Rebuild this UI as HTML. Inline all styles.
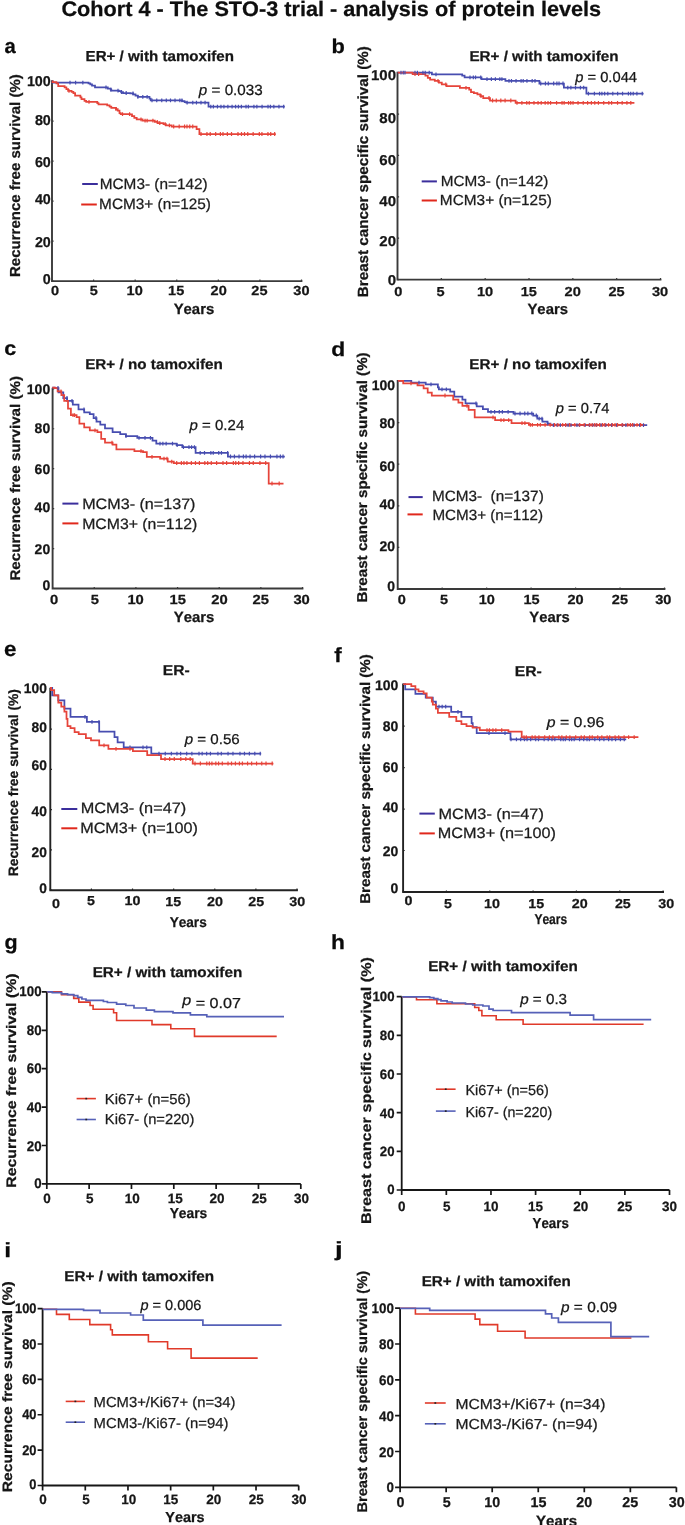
<!DOCTYPE html>
<html><head><meta charset="utf-8"><style>
html,body{margin:0;padding:0;background:#fff;width:685px;height:1525px;overflow:hidden}
svg{display:block;font-family:"Liberation Sans", sans-serif;font-kerning:none;text-rendering:geometricPrecision;will-change:transform}
</style></head><body>
<svg width="685" height="1525" viewBox="0 0 685 1525">
<rect width="685" height="1525" fill="#fff"/>
<text x="61.41" y="16.00" font-size="21" fill="#0e0e0e" stroke="#0e0e0e" stroke-width="0.25" textLength="539.78" lengthAdjust="spacingAndGlyphs" xml:space="preserve"><tspan font-weight="bold" font-style="normal">Cohort 4 - The STO-3 trial - analysis of protein levels</tspan></text>
<text x="4.41" y="52.50" font-size="20.5" fill="#0a0a0a" stroke="#0a0a0a" stroke-width="0.25" textLength="11.26" lengthAdjust="spacingAndGlyphs" xml:space="preserve"><tspan font-weight="bold" font-style="normal">a</tspan></text>
<text x="85.59" y="60.80" font-size="14.5" fill="#161616" stroke="#161616" stroke-width="0.25" textLength="148.35" lengthAdjust="spacingAndGlyphs" xml:space="preserve"><tspan font-weight="bold" font-style="normal">ER+ / with tamoxifen</tspan></text>
<text transform="translate(20.30,276.00) rotate(-90)" x="-1.00" y="0" font-size="14.5" fill="#161616" stroke="#161616" stroke-width="0.25" textLength="202.75" lengthAdjust="spacingAndGlyphs"><tspan font-weight="bold" font-style="normal">Recurrence free survival (%)</tspan></text>
<path d="M52.00,80.20 V281.10 H302.40" fill="none" stroke="#3a3a3a" stroke-width="1.9" stroke-linejoin="miter"/>
<path d="M52.00,281.10 h1.6 M52.00,241.12 h1.6 M52.00,201.14 h1.6 M52.00,161.16 h1.6 M52.00,121.18 h1.6 M52.00,81.20 h1.6 M52.00,281.10 v-1.6 M93.58,281.10 v-1.6 M135.17,281.10 v-1.6 M176.75,281.10 v-1.6 M218.33,281.10 v-1.6 M259.92,281.10 v-1.6 M301.50,281.10 v-1.6" stroke="#3a3a3a" stroke-width="1.2"/>
<text x="42.83" y="283.80" font-size="14.3" fill="#161616" stroke="#161616" stroke-width="0.25" textLength="7.95" lengthAdjust="spacingAndGlyphs" xml:space="preserve"><tspan font-weight="bold" font-style="normal">0</tspan></text>
<text x="34.88" y="247.40" font-size="14.3" fill="#161616" stroke="#161616" stroke-width="0.25" textLength="15.91" lengthAdjust="spacingAndGlyphs" xml:space="preserve"><tspan font-weight="bold" font-style="normal">20</tspan></text>
<text x="34.88" y="204.40" font-size="14.3" fill="#161616" stroke="#161616" stroke-width="0.25" textLength="15.91" lengthAdjust="spacingAndGlyphs" xml:space="preserve"><tspan font-weight="bold" font-style="normal">40</tspan></text>
<text x="34.88" y="166.70" font-size="14.3" fill="#161616" stroke="#161616" stroke-width="0.25" textLength="15.91" lengthAdjust="spacingAndGlyphs" xml:space="preserve"><tspan font-weight="bold" font-style="normal">60</tspan></text>
<text x="34.88" y="124.80" font-size="14.3" fill="#161616" stroke="#161616" stroke-width="0.25" textLength="15.91" lengthAdjust="spacingAndGlyphs" xml:space="preserve"><tspan font-weight="bold" font-style="normal">80</tspan></text>
<text x="26.93" y="86.10" font-size="14.3" fill="#161616" stroke="#161616" stroke-width="0.25" textLength="23.86" lengthAdjust="spacingAndGlyphs" xml:space="preserve"><tspan font-weight="bold" font-style="normal">100</tspan></text>
<text x="50.97" y="295.10" font-size="13.2" fill="#161616" stroke="#161616" stroke-width="0.25" textLength="8.08" lengthAdjust="spacingAndGlyphs" xml:space="preserve"><tspan font-weight="bold" font-style="normal">0</tspan></text>
<text x="89.74" y="295.10" font-size="13.2" fill="#161616" stroke="#161616" stroke-width="0.25" textLength="8.08" lengthAdjust="spacingAndGlyphs" xml:space="preserve"><tspan font-weight="bold" font-style="normal">5</tspan></text>
<text x="126.57" y="295.10" font-size="13.2" fill="#161616" stroke="#161616" stroke-width="0.25" textLength="16.15" lengthAdjust="spacingAndGlyphs" xml:space="preserve"><tspan font-weight="bold" font-style="normal">10</tspan></text>
<text x="168.07" y="295.10" font-size="13.2" fill="#161616" stroke="#161616" stroke-width="0.25" textLength="16.15" lengthAdjust="spacingAndGlyphs" xml:space="preserve"><tspan font-weight="bold" font-style="normal">15</tspan></text>
<text x="210.57" y="295.10" font-size="13.2" fill="#161616" stroke="#161616" stroke-width="0.25" textLength="16.15" lengthAdjust="spacingAndGlyphs" xml:space="preserve"><tspan font-weight="bold" font-style="normal">20</tspan></text>
<text x="251.38" y="295.10" font-size="13.2" fill="#161616" stroke="#161616" stroke-width="0.25" textLength="16.15" lengthAdjust="spacingAndGlyphs" xml:space="preserve"><tspan font-weight="bold" font-style="normal">25</tspan></text>
<text x="293.36" y="295.10" font-size="13.2" fill="#161616" stroke="#161616" stroke-width="0.25" textLength="16.15" lengthAdjust="spacingAndGlyphs" xml:space="preserve"><tspan font-weight="bold" font-style="normal">30</tspan></text>
<text x="173.65" y="314.30" font-size="15" fill="#161616" stroke="#161616" stroke-width="0.25" textLength="40.57" lengthAdjust="spacingAndGlyphs" xml:space="preserve"><tspan font-weight="bold" font-style="normal">Years</tspan></text>
<text x="198.88" y="94.80" font-size="14.8" fill="#161616" stroke="#161616" stroke-width="0.25" textLength="63.79" lengthAdjust="spacingAndGlyphs" xml:space="preserve"><tspan font-weight="normal" font-style="italic">p</tspan><tspan font-weight="normal" font-style="normal"> = 0.033</tspan></text>
<path d="M82.20,184.00 H97.80" stroke="#3b2e9c" stroke-width="2"/>
<text x="99.74" y="188.50" font-size="15" fill="#1c1c1c" stroke="#1c1c1c" stroke-width="0.25" textLength="107.91" lengthAdjust="spacingAndGlyphs" xml:space="preserve"><tspan font-weight="normal" font-style="normal">MCM3- (n=142)</tspan></text>
<path d="M81.20,204.50 H96.80" stroke="#e0281c" stroke-width="2"/>
<text x="99.14" y="209.00" font-size="15" fill="#1c1c1c" stroke="#1c1c1c" stroke-width="0.25" textLength="111.81" lengthAdjust="spacingAndGlyphs" xml:space="preserve"><tspan font-weight="normal" font-style="normal">MCM3+ (n=125)</tspan></text>
<path d="M52.00,81.30 H52.50 V82.70 H88.50 V83.30 H90.30 V84.40 H92.00 V85.60 H95.00 V87.30 H107.80 V88.50 H110.70 V89.70 H111.30 V90.60 H118.90 V91.10 H121.20 V92.00 H123.00 V93.00 H130.30 V93.30 H133.20 V94.40 H135.50 V95.60 H137.80 V96.80 H149.50 V98.50 H150.70 V100.30 H182.20 V101.10 H184.60 V102.00 H186.30 V102.60 H208.50 V106.60 H284.80" fill="none" stroke="#474db0" stroke-width="1.75"/>
<path d="M52.00,81.30 H52.50 V82.10 H56.40 V83.30 H58.20 V86.20 H64.60 V87.30 H66.40 V89.10 H68.10 V90.80 H71.60 V91.80 H73.40 V93.20 H75.10 V95.50 H80.40 V97.30 H81.50 V99.00 H84.50 V100.80 H86.20 V101.90 H97.30 V103.10 H98.50 V104.30 H107.20 V105.40 H109.60 V106.60 H111.30 V107.80 H116.00 V109.00 H117.70 V110.70 H119.50 V113.00 H120.70 V114.20 H129.70 V114.30 H132.00 V116.00 H134.30 V117.80 H136.70 V119.30 H142.50 V120.70 H154.80 V121.90 H157.70 V123.00 H163.50 V124.20 H165.90 V125.40 H171.70 V126.50 H196.60 V129.00 H199.40 V134.00 H275.80" fill="none" stroke="#e6443a" stroke-width="1.75"/>
<path d="M70.00,80.80 v3.80 M75.59,80.80 v3.80 M82.84,80.80 v3.80 M106.00,85.40 v3.80 M110.80,87.80 v3.80 M118.00,88.70 v3.80 M121.47,90.10 v3.80 M126.18,91.10 v3.80 M133.00,91.40 v3.80 M137.88,94.90 v3.80 M142.80,94.90 v3.80 M147.12,94.90 v3.80 M152.00,98.40 v3.80 M156.74,98.40 v3.80 M161.75,98.40 v3.80 M166.30,98.40 v3.80 M170.49,98.40 v3.80 M175.01,98.40 v3.80 M179.84,98.40 v3.80 M181.94,98.40 v3.80 M187.13,100.70 v3.80 M192.77,100.70 v3.80 M196.46,100.70 v3.80 M200.99,100.70 v3.80 M205.07,100.70 v3.80 M210.77,104.70 v3.80 M213.38,104.70 v3.80 M217.45,104.70 v3.80 M220.95,104.70 v3.80 M223.93,104.70 v3.80 M227.87,104.70 v3.80 M232.08,104.70 v3.80 M235.55,104.70 v3.80 M238.43,104.70 v3.80 M241.39,104.70 v3.80 M246.02,104.70 v3.80 M248.35,104.70 v3.80 M253.91,104.70 v3.80 M256.87,104.70 v3.80 M262.07,104.70 v3.80 M268.01,104.70 v3.80 M270.41,104.70 v3.80 M273.83,104.70 v3.80 M278.96,104.70 v3.80 M283.67,104.70 v3.80" stroke="#474db0" stroke-width="1.2"/>
<path d="M69.00,88.90 v3.80 M89.00,100.00 v3.80 M116.00,107.10 v3.80 M122.52,112.30 v3.80 M129.58,112.30 v3.80 M141.00,117.40 v3.80 M145.07,118.80 v3.80 M147.14,118.80 v3.80 M152.92,118.80 v3.80 M157.25,120.00 v3.80 M159.78,121.10 v3.80 M165.25,122.30 v3.80 M169.39,123.50 v3.80 M173.68,124.60 v3.80 M179.19,124.60 v3.80 M184.55,124.60 v3.80 M186.97,124.60 v3.80 M189.73,124.60 v3.80 M192.75,124.60 v3.80 M201.00,132.10 v3.80 M206.95,132.10 v3.80 M210.21,132.10 v3.80 M215.68,132.10 v3.80 M220.38,132.10 v3.80 M222.98,132.10 v3.80 M227.35,132.10 v3.80 M231.52,132.10 v3.80 M237.98,132.10 v3.80 M241.49,132.10 v3.80 M244.51,132.10 v3.80 M247.75,132.10 v3.80 M253.15,132.10 v3.80 M259.30,132.10 v3.80 M261.93,132.10 v3.80 M267.95,132.10 v3.80 M270.72,132.10 v3.80 M274.65,132.10 v3.80" stroke="#e6443a" stroke-width="1.2"/>
<text x="331.46" y="52.50" font-size="20" fill="#0a0a0a" stroke="#0a0a0a" stroke-width="0.25" textLength="13.33" lengthAdjust="spacingAndGlyphs" xml:space="preserve"><tspan font-weight="bold" font-style="normal">b</tspan></text>
<text x="469.48" y="60.80" font-size="14.3" fill="#161616" stroke="#161616" stroke-width="0.25" textLength="149.06" lengthAdjust="spacingAndGlyphs" xml:space="preserve"><tspan font-weight="bold" font-style="normal">ER+ / with tamoxifen</tspan></text>
<text transform="translate(367.70,296.20) rotate(-90)" x="-1.02" y="0" font-size="14.7" fill="#161616" stroke="#161616" stroke-width="0.25" textLength="251.07" lengthAdjust="spacingAndGlyphs"><tspan font-weight="bold" font-style="normal">Breast cancer specific survival (%)</tspan></text>
<path d="M397.50,71.70 V279.60 H661.40" fill="none" stroke="#3a3a3a" stroke-width="1.9" stroke-linejoin="miter"/>
<path d="M397.50,279.60 h1.6 M397.50,238.22 h1.6 M397.50,196.84 h1.6 M397.50,155.46 h1.6 M397.50,114.08 h1.6 M397.50,72.70 h1.6 M397.50,279.60 v-1.6 M441.33,279.60 v-1.6 M485.17,279.60 v-1.6 M529.00,279.60 v-1.6 M572.83,279.60 v-1.6 M616.67,279.60 v-1.6 M660.50,279.60 v-1.6" stroke="#3a3a3a" stroke-width="1.2"/>
<text x="387.67" y="284.50" font-size="14.3" fill="#161616" stroke="#161616" stroke-width="0.25" textLength="8.35" lengthAdjust="spacingAndGlyphs" xml:space="preserve"><tspan font-weight="bold" font-style="normal">0</tspan></text>
<text x="379.31" y="246.00" font-size="14.3" fill="#161616" stroke="#161616" stroke-width="0.25" textLength="16.70" lengthAdjust="spacingAndGlyphs" xml:space="preserve"><tspan font-weight="bold" font-style="normal">20</tspan></text>
<text x="379.31" y="205.80" font-size="14.3" fill="#161616" stroke="#161616" stroke-width="0.25" textLength="16.70" lengthAdjust="spacingAndGlyphs" xml:space="preserve"><tspan font-weight="bold" font-style="normal">40</tspan></text>
<text x="379.31" y="165.10" font-size="14.3" fill="#161616" stroke="#161616" stroke-width="0.25" textLength="16.70" lengthAdjust="spacingAndGlyphs" xml:space="preserve"><tspan font-weight="bold" font-style="normal">60</tspan></text>
<text x="379.31" y="122.80" font-size="14.3" fill="#161616" stroke="#161616" stroke-width="0.25" textLength="16.70" lengthAdjust="spacingAndGlyphs" xml:space="preserve"><tspan font-weight="bold" font-style="normal">80</tspan></text>
<text x="370.96" y="80.20" font-size="14.3" fill="#161616" stroke="#161616" stroke-width="0.25" textLength="25.05" lengthAdjust="spacingAndGlyphs" xml:space="preserve"><tspan font-weight="bold" font-style="normal">100</tspan></text>
<text x="394.26" y="295.70" font-size="13" fill="#161616" stroke="#161616" stroke-width="0.25" textLength="8.10" lengthAdjust="spacingAndGlyphs" xml:space="preserve"><tspan font-weight="bold" font-style="normal">0</tspan></text>
<text x="436.43" y="295.70" font-size="13" fill="#161616" stroke="#161616" stroke-width="0.25" textLength="8.10" lengthAdjust="spacingAndGlyphs" xml:space="preserve"><tspan font-weight="bold" font-style="normal">5</tspan></text>
<text x="476.94" y="295.70" font-size="13" fill="#161616" stroke="#161616" stroke-width="0.25" textLength="16.20" lengthAdjust="spacingAndGlyphs" xml:space="preserve"><tspan font-weight="bold" font-style="normal">10</tspan></text>
<text x="520.65" y="295.70" font-size="13" fill="#161616" stroke="#161616" stroke-width="0.25" textLength="16.20" lengthAdjust="spacingAndGlyphs" xml:space="preserve"><tspan font-weight="bold" font-style="normal">15</tspan></text>
<text x="564.55" y="295.70" font-size="13" fill="#161616" stroke="#161616" stroke-width="0.25" textLength="16.20" lengthAdjust="spacingAndGlyphs" xml:space="preserve"><tspan font-weight="bold" font-style="normal">20</tspan></text>
<text x="608.45" y="295.70" font-size="13" fill="#161616" stroke="#161616" stroke-width="0.25" textLength="16.20" lengthAdjust="spacingAndGlyphs" xml:space="preserve"><tspan font-weight="bold" font-style="normal">25</tspan></text>
<text x="652.03" y="295.70" font-size="13" fill="#161616" stroke="#161616" stroke-width="0.25" textLength="16.20" lengthAdjust="spacingAndGlyphs" xml:space="preserve"><tspan font-weight="bold" font-style="normal">30</tspan></text>
<text x="527.45" y="314.30" font-size="14.8" fill="#161616" stroke="#161616" stroke-width="0.25" textLength="40.57" lengthAdjust="spacingAndGlyphs" xml:space="preserve"><tspan font-weight="bold" font-style="normal">Years</tspan></text>
<text x="575.17" y="81.50" font-size="14.5" fill="#161616" stroke="#161616" stroke-width="0.25" textLength="61.86" lengthAdjust="spacingAndGlyphs" xml:space="preserve"><tspan font-weight="normal" font-style="italic">p</tspan><tspan font-weight="normal" font-style="normal"> = 0.044</tspan></text>
<path d="M421.70,181.40 H436.90" stroke="#3b2e9c" stroke-width="2"/>
<text x="440.74" y="186.00" font-size="14.7" fill="#1c1c1c" stroke="#1c1c1c" stroke-width="0.25" textLength="107.60" lengthAdjust="spacingAndGlyphs" xml:space="preserve"><tspan font-weight="normal" font-style="normal">MCM3- (n=142)</tspan></text>
<path d="M421.70,200.50 H436.90" stroke="#e0281c" stroke-width="2"/>
<text x="439.84" y="205.20" font-size="14.7" fill="#1c1c1c" stroke="#1c1c1c" stroke-width="0.25" textLength="112.02" lengthAdjust="spacingAndGlyphs" xml:space="preserve"><tspan font-weight="normal" font-style="normal">MCM3+ (n=125)</tspan></text>
<path d="M397.70,72.70 H431.90 V74.40 H462.20 V75.60 H464.60 V77.30 H481.50 V79.10 H505.40 V80.80 H539.40 V83.50 H563.90 V87.60 H586.40 V93.70 H643.60" fill="none" stroke="#474db0" stroke-width="1.75"/>
<path d="M397.70,72.70 H412.60 V74.10 H425.40 V75.60 H427.80 V77.90 H430.10 V79.70 H434.80 V80.80 H438.90 V82.60 H441.80 V84.40 H446.50 V86.10 H459.90 V87.90 H469.20 V89.60 H471.00 V92.00 H473.90 V93.10 H477.40 V94.30 H480.30 V96.00 H483.20 V98.00 H490.00 V100.50 H515.60 V102.90 H634.40" fill="none" stroke="#e6443a" stroke-width="1.75"/>
<path d="M401.00,70.80 v3.80 M403.26,70.80 v3.80 M404.97,70.80 v3.80 M415.00,70.80 v3.80 M417.39,70.80 v3.80 M422.94,70.80 v3.80 M425.21,70.80 v3.80 M429.23,70.80 v3.80 M436.00,72.50 v3.80 M470.00,75.40 v3.80 M473.35,75.40 v3.80 M475.55,75.40 v3.80 M480.73,75.40 v3.80 M487.00,77.20 v3.80 M491.40,77.20 v3.80 M495.40,77.20 v3.80 M499.80,77.20 v3.80 M501.92,77.20 v3.80 M509.00,78.90 v3.80 M511.47,78.90 v3.80 M516.04,78.90 v3.80 M521.08,78.90 v3.80 M523.21,78.90 v3.80 M526.94,78.90 v3.80 M532.18,78.90 v3.80 M535.01,78.90 v3.80 M540.73,81.60 v3.80 M545.42,81.60 v3.80 M548.30,81.60 v3.80 M553.65,81.60 v3.80 M556.89,81.60 v3.80 M559.03,81.60 v3.80 M562.99,81.60 v3.80 M567.79,85.70 v3.80 M570.87,85.70 v3.80 M575.49,85.70 v3.80 M580.42,85.70 v3.80 M583.67,85.70 v3.80 M588.42,91.80 v3.80 M594.39,91.80 v3.80 M599.55,91.80 v3.80 M601.89,91.80 v3.80 M604.64,91.80 v3.80 M607.80,91.80 v3.80 M612.79,91.80 v3.80 M617.64,91.80 v3.80 M622.56,91.80 v3.80 M628.39,91.80 v3.80 M630.68,91.80 v3.80 M633.25,91.80 v3.80 M636.90,91.80 v3.80 M642.24,91.80 v3.80" stroke="#474db0" stroke-width="1.2"/>
<path d="M415.00,72.20 v3.80 M418.60,72.20 v3.80 M438.00,78.90 v3.80 M445.80,82.50 v3.80 M466.00,86.00 v3.80 M481.00,94.10 v3.80 M489.00,96.10 v3.80 M492.57,98.60 v3.80 M496.28,98.60 v3.80 M500.81,98.60 v3.80 M505.09,98.60 v3.80 M510.82,98.60 v3.80 M517.00,101.00 v3.80 M521.88,101.00 v3.80 M526.75,101.00 v3.80 M529.25,101.00 v3.80 M533.97,101.00 v3.80 M538.05,101.00 v3.80 M541.21,101.00 v3.80 M545.16,101.00 v3.80 M548.00,101.00 v3.80 M550.57,101.00 v3.80 M556.57,101.00 v3.80 M562.04,101.00 v3.80 M564.14,101.00 v3.80 M568.55,101.00 v3.80 M570.71,101.00 v3.80 M573.04,101.00 v3.80 M578.04,101.00 v3.80 M583.25,101.00 v3.80 M587.60,101.00 v3.80 M591.39,101.00 v3.80 M594.77,101.00 v3.80 M598.42,101.00 v3.80 M603.70,101.00 v3.80 M608.82,101.00 v3.80 M611.59,101.00 v3.80 M617.54,101.00 v3.80 M622.17,101.00 v3.80 M626.92,101.00 v3.80 M630.80,101.00 v3.80" stroke="#e6443a" stroke-width="1.2"/>
<text x="4.36" y="355.00" font-size="20" fill="#0a0a0a" stroke="#0a0a0a" stroke-width="0.25" textLength="11.97" lengthAdjust="spacingAndGlyphs" xml:space="preserve"><tspan font-weight="bold" font-style="normal">c</tspan></text>
<text x="85.18" y="368.60" font-size="14.2" fill="#161616" stroke="#161616" stroke-width="0.25" textLength="137.67" lengthAdjust="spacingAndGlyphs" xml:space="preserve"><tspan font-weight="bold" font-style="normal">ER+ / no tamoxifen</tspan></text>
<text transform="translate(20.40,579.60) rotate(-90)" x="-1.01" y="0" font-size="14" fill="#161616" stroke="#161616" stroke-width="0.25" textLength="204.57" lengthAdjust="spacingAndGlyphs"><tspan font-weight="bold" font-style="normal">Recurrence free survival (%)</tspan></text>
<path d="M52.60,387.80 V588.50 H303.40" fill="none" stroke="#3a3a3a" stroke-width="1.9" stroke-linejoin="miter"/>
<path d="M52.60,588.50 h1.6 M52.60,548.56 h1.6 M52.60,508.62 h1.6 M52.60,468.68 h1.6 M52.60,428.74 h1.6 M52.60,388.80 h1.6 M52.60,588.50 v-1.6 M94.25,588.50 v-1.6 M135.90,588.50 v-1.6 M177.55,588.50 v-1.6 M219.20,588.50 v-1.6 M260.85,588.50 v-1.6 M302.50,588.50 v-1.6" stroke="#3a3a3a" stroke-width="1.2"/>
<text x="42.39" y="589.50" font-size="14" fill="#161616" stroke="#161616" stroke-width="0.25" textLength="7.79" lengthAdjust="spacingAndGlyphs" xml:space="preserve"><tspan font-weight="bold" font-style="normal">0</tspan></text>
<text x="34.60" y="554.40" font-size="14" fill="#161616" stroke="#161616" stroke-width="0.25" textLength="15.57" lengthAdjust="spacingAndGlyphs" xml:space="preserve"><tspan font-weight="bold" font-style="normal">20</tspan></text>
<text x="34.60" y="512.40" font-size="14" fill="#161616" stroke="#161616" stroke-width="0.25" textLength="15.57" lengthAdjust="spacingAndGlyphs" xml:space="preserve"><tspan font-weight="bold" font-style="normal">40</tspan></text>
<text x="34.60" y="473.80" font-size="14" fill="#161616" stroke="#161616" stroke-width="0.25" textLength="15.57" lengthAdjust="spacingAndGlyphs" xml:space="preserve"><tspan font-weight="bold" font-style="normal">60</tspan></text>
<text x="34.60" y="432.90" font-size="14" fill="#161616" stroke="#161616" stroke-width="0.25" textLength="15.57" lengthAdjust="spacingAndGlyphs" xml:space="preserve"><tspan font-weight="bold" font-style="normal">80</tspan></text>
<text x="26.82" y="394.40" font-size="14" fill="#161616" stroke="#161616" stroke-width="0.25" textLength="23.36" lengthAdjust="spacingAndGlyphs" xml:space="preserve"><tspan font-weight="bold" font-style="normal">100</tspan></text>
<text x="50.10" y="603.70" font-size="13.2" fill="#161616" stroke="#161616" stroke-width="0.25" textLength="8.22" lengthAdjust="spacingAndGlyphs" xml:space="preserve"><tspan font-weight="bold" font-style="normal">0</tspan></text>
<text x="90.87" y="603.70" font-size="13.2" fill="#161616" stroke="#161616" stroke-width="0.25" textLength="8.22" lengthAdjust="spacingAndGlyphs" xml:space="preserve"><tspan font-weight="bold" font-style="normal">5</tspan></text>
<text x="127.42" y="603.70" font-size="13.2" fill="#161616" stroke="#161616" stroke-width="0.25" textLength="16.44" lengthAdjust="spacingAndGlyphs" xml:space="preserve"><tspan font-weight="bold" font-style="normal">10</tspan></text>
<text x="169.62" y="603.70" font-size="13.2" fill="#161616" stroke="#161616" stroke-width="0.25" textLength="16.44" lengthAdjust="spacingAndGlyphs" xml:space="preserve"><tspan font-weight="bold" font-style="normal">15</tspan></text>
<text x="211.32" y="603.70" font-size="13.2" fill="#161616" stroke="#161616" stroke-width="0.25" textLength="16.44" lengthAdjust="spacingAndGlyphs" xml:space="preserve"><tspan font-weight="bold" font-style="normal">20</tspan></text>
<text x="252.53" y="603.70" font-size="13.2" fill="#161616" stroke="#161616" stroke-width="0.25" textLength="16.44" lengthAdjust="spacingAndGlyphs" xml:space="preserve"><tspan font-weight="bold" font-style="normal">25</tspan></text>
<text x="293.41" y="603.70" font-size="13.2" fill="#161616" stroke="#161616" stroke-width="0.25" textLength="16.44" lengthAdjust="spacingAndGlyphs" xml:space="preserve"><tspan font-weight="bold" font-style="normal">30</tspan></text>
<text x="173.75" y="621.70" font-size="14.8" fill="#161616" stroke="#161616" stroke-width="0.25" textLength="40.57" lengthAdjust="spacingAndGlyphs" xml:space="preserve"><tspan font-weight="bold" font-style="normal">Years</tspan></text>
<text x="189.57" y="430.00" font-size="14.5" fill="#161616" stroke="#161616" stroke-width="0.25" textLength="54.67" lengthAdjust="spacingAndGlyphs" xml:space="preserve"><tspan font-weight="normal" font-style="italic">p</tspan><tspan font-weight="normal" font-style="normal"> = 0.24</tspan></text>
<path d="M62.40,503.60 H78.40" stroke="#3b2e9c" stroke-width="2"/>
<text x="82.18" y="508.70" font-size="15" fill="#1c1c1c" stroke="#1c1c1c" stroke-width="0.25" textLength="113.32" lengthAdjust="spacingAndGlyphs" xml:space="preserve"><tspan font-weight="normal" font-style="normal">MCM3- (n=137)</tspan></text>
<path d="M62.40,523.40 H78.40" stroke="#e0281c" stroke-width="2"/>
<text x="82.20" y="528.50" font-size="15" fill="#1c1c1c" stroke="#1c1c1c" stroke-width="0.25" textLength="115.08" lengthAdjust="spacingAndGlyphs" xml:space="preserve"><tspan font-weight="normal" font-style="normal">MCM3+ (n=112)</tspan></text>
<path d="M52.30,387.60 H54.70 V388.00 H58.50 V392.30 H63.30 V398.00 H67.10 V400.90 H72.80 V404.70 H78.50 V409.40 H84.20 V412.30 H89.80 V414.20 H93.60 V418.00 H96.50 V421.70 H100.30 V424.60 H105.00 V428.40 H112.60 V432.20 H120.20 V434.10 H125.90 V436.00 H137.30 V437.90 H152.50 V440.70 H156.30 V443.60 H176.60 V445.20 H182.30 V447.10 H195.60 V452.80 H227.90 V456.50 H284.80" fill="none" stroke="#474db0" stroke-width="1.75"/>
<path d="M52.30,387.60 H54.70 V388.00 H57.60 V391.40 H61.40 V395.20 H64.20 V400.90 H68.00 V408.50 H70.90 V415.10 H76.60 V417.00 H79.40 V423.60 H84.20 V427.40 H89.80 V430.30 H97.40 V432.20 H101.20 V438.80 H105.00 V442.60 H112.60 V444.50 H116.40 V449.30 H133.50 V449.30 H134.40 V451.20 H143.00 V452.10 H146.80 V456.90 H160.10 V458.70 H167.70 V461.60 H173.80 V463.00 H268.70 V483.50 H283.50" fill="none" stroke="#e6443a" stroke-width="1.75"/>
<path d="M58.00,386.10 v3.80 M67.00,396.10 v3.80 M72.00,399.00 v3.80 M84.00,407.50 v3.80 M96.00,416.10 v3.80 M126.00,434.10 v3.80 M139.00,436.00 v3.80 M145.00,436.00 v3.80 M150.44,436.00 v3.80 M160.00,441.70 v3.80 M162.87,441.70 v3.80 M166.14,441.70 v3.80 M172.50,441.70 v3.80 M177.14,443.30 v3.80 M183.44,445.20 v3.80 M188.97,445.20 v3.80 M191.56,445.20 v3.80 M194.46,445.20 v3.80 M200.19,450.90 v3.80 M204.51,450.90 v3.80 M210.86,450.90 v3.80 M213.25,450.90 v3.80 M218.72,450.90 v3.80 M221.45,450.90 v3.80 M227.65,450.90 v3.80 M230.49,454.60 v3.80 M234.43,454.60 v3.80 M239.04,454.60 v3.80 M243.41,454.60 v3.80 M246.10,454.60 v3.80 M250.05,454.60 v3.80 M254.61,454.60 v3.80 M260.62,454.60 v3.80 M264.96,454.60 v3.80 M270.45,454.60 v3.80 M276.94,454.60 v3.80 M280.37,454.60 v3.80 M283.04,454.60 v3.80" stroke="#474db0" stroke-width="1.2"/>
<path d="M61.00,389.50 v3.80 M73.00,413.20 v3.80 M74.56,413.20 v3.80 M95.00,428.40 v3.80 M112.00,440.70 v3.80 M141.00,449.30 v3.80 M152.00,455.00 v3.80 M164.00,456.80 v3.80 M166.99,456.80 v3.80 M171.74,459.70 v3.80 M176.71,461.10 v3.80 M181.36,461.10 v3.80 M183.95,461.10 v3.80 M186.92,461.10 v3.80 M191.35,461.10 v3.80 M195.47,461.10 v3.80 M199.40,461.10 v3.80 M204.81,461.10 v3.80 M207.70,461.10 v3.80 M211.28,461.10 v3.80 M216.62,461.10 v3.80 M222.98,461.10 v3.80 M226.62,461.10 v3.80 M233.35,461.10 v3.80 M235.73,461.10 v3.80 M238.65,461.10 v3.80 M242.97,461.10 v3.80 M249.45,461.10 v3.80 M253.27,461.10 v3.80 M259.93,461.10 v3.80 M265.70,461.10 v3.80 M272.00,481.60 v3.80 M279.18,481.60 v3.80" stroke="#e6443a" stroke-width="1.2"/>
<text x="331.26" y="356.30" font-size="20" fill="#0a0a0a" stroke="#0a0a0a" stroke-width="0.25" textLength="13.94" lengthAdjust="spacingAndGlyphs" xml:space="preserve"><tspan font-weight="bold" font-style="normal">d</tspan></text>
<text x="469.38" y="368.60" font-size="14.2" fill="#161616" stroke="#161616" stroke-width="0.25" textLength="137.46" lengthAdjust="spacingAndGlyphs" xml:space="preserve"><tspan font-weight="bold" font-style="normal">ER+ / no tamoxifen</tspan></text>
<text transform="translate(366.70,601.50) rotate(-90)" x="-1.01" y="0" font-size="14.3" fill="#161616" stroke="#161616" stroke-width="0.25" textLength="250.17" lengthAdjust="spacingAndGlyphs"><tspan font-weight="bold" font-style="normal">Breast cancer specific survival (%)</tspan></text>
<path d="M397.70,380.00 V589.00 H665.40" fill="none" stroke="#3a3a3a" stroke-width="1.9" stroke-linejoin="miter"/>
<path d="M397.70,589.00 h1.6 M397.70,547.40 h1.6 M397.70,505.80 h1.6 M397.70,464.20 h1.6 M397.70,422.60 h1.6 M397.70,381.00 h1.6 M397.70,589.00 v-1.6 M442.17,589.00 v-1.6 M486.63,589.00 v-1.6 M531.10,589.00 v-1.6 M575.57,589.00 v-1.6 M620.03,589.00 v-1.6 M664.50,589.00 v-1.6" stroke="#3a3a3a" stroke-width="1.2"/>
<text x="387.29" y="590.60" font-size="14" fill="#161616" stroke="#161616" stroke-width="0.25" textLength="7.79" lengthAdjust="spacingAndGlyphs" xml:space="preserve"><tspan font-weight="bold" font-style="normal">0</tspan></text>
<text x="379.50" y="551.20" font-size="14" fill="#161616" stroke="#161616" stroke-width="0.25" textLength="15.57" lengthAdjust="spacingAndGlyphs" xml:space="preserve"><tspan font-weight="bold" font-style="normal">20</tspan></text>
<text x="379.50" y="508.50" font-size="14" fill="#161616" stroke="#161616" stroke-width="0.25" textLength="15.57" lengthAdjust="spacingAndGlyphs" xml:space="preserve"><tspan font-weight="bold" font-style="normal">40</tspan></text>
<text x="379.50" y="470.50" font-size="14" fill="#161616" stroke="#161616" stroke-width="0.25" textLength="15.57" lengthAdjust="spacingAndGlyphs" xml:space="preserve"><tspan font-weight="bold" font-style="normal">60</tspan></text>
<text x="379.50" y="428.40" font-size="14" fill="#161616" stroke="#161616" stroke-width="0.25" textLength="15.57" lengthAdjust="spacingAndGlyphs" xml:space="preserve"><tspan font-weight="bold" font-style="normal">80</tspan></text>
<text x="371.72" y="389.90" font-size="14" fill="#161616" stroke="#161616" stroke-width="0.25" textLength="23.36" lengthAdjust="spacingAndGlyphs" xml:space="preserve"><tspan font-weight="bold" font-style="normal">100</tspan></text>
<text x="397.67" y="604.20" font-size="13.2" fill="#161616" stroke="#161616" stroke-width="0.25" textLength="8.08" lengthAdjust="spacingAndGlyphs" xml:space="preserve"><tspan font-weight="bold" font-style="normal">0</tspan></text>
<text x="439.94" y="604.20" font-size="13.2" fill="#161616" stroke="#161616" stroke-width="0.25" textLength="8.08" lengthAdjust="spacingAndGlyphs" xml:space="preserve"><tspan font-weight="bold" font-style="normal">5</tspan></text>
<text x="478.77" y="604.20" font-size="13.2" fill="#161616" stroke="#161616" stroke-width="0.25" textLength="16.15" lengthAdjust="spacingAndGlyphs" xml:space="preserve"><tspan font-weight="bold" font-style="normal">10</tspan></text>
<text x="523.47" y="604.20" font-size="13.2" fill="#161616" stroke="#161616" stroke-width="0.25" textLength="16.15" lengthAdjust="spacingAndGlyphs" xml:space="preserve"><tspan font-weight="bold" font-style="normal">15</tspan></text>
<text x="567.47" y="604.20" font-size="13.2" fill="#161616" stroke="#161616" stroke-width="0.25" textLength="16.15" lengthAdjust="spacingAndGlyphs" xml:space="preserve"><tspan font-weight="bold" font-style="normal">20</tspan></text>
<text x="611.88" y="604.20" font-size="13.2" fill="#161616" stroke="#161616" stroke-width="0.25" textLength="16.15" lengthAdjust="spacingAndGlyphs" xml:space="preserve"><tspan font-weight="bold" font-style="normal">25</tspan></text>
<text x="655.26" y="604.20" font-size="13.2" fill="#161616" stroke="#161616" stroke-width="0.25" textLength="16.15" lengthAdjust="spacingAndGlyphs" xml:space="preserve"><tspan font-weight="bold" font-style="normal">30</tspan></text>
<text x="529.35" y="621.60" font-size="14.8" fill="#161616" stroke="#161616" stroke-width="0.25" textLength="40.26" lengthAdjust="spacingAndGlyphs" xml:space="preserve"><tspan font-weight="bold" font-style="normal">Years</tspan></text>
<text x="555.87" y="413.30" font-size="14.5" fill="#161616" stroke="#161616" stroke-width="0.25" textLength="53.46" lengthAdjust="spacingAndGlyphs" xml:space="preserve"><tspan font-weight="normal" font-style="italic">p</tspan><tspan font-weight="normal" font-style="normal"> = 0.74</tspan></text>
<path d="M408.50,497.10 H422.70" stroke="#3b2e9c" stroke-width="2"/>
<text x="431.94" y="501.00" font-size="14.8" fill="#1c1c1c" stroke="#1c1c1c" stroke-width="0.25" textLength="111.80" lengthAdjust="spacingAndGlyphs" xml:space="preserve"><tspan font-weight="normal" font-style="normal">MCM3-  (n=137)</tspan></text>
<path d="M407.50,514.40 H422.70" stroke="#e0281c" stroke-width="2"/>
<text x="432.45" y="519.60" font-size="14.8" fill="#1c1c1c" stroke="#1c1c1c" stroke-width="0.25" textLength="110.69" lengthAdjust="spacingAndGlyphs" xml:space="preserve"><tspan font-weight="normal" font-style="normal">MCM3+ (n=112)</tspan></text>
<path d="M397.90,380.80 H411.30 V382.70 H425.70 V384.30 H437.90 V387.40 H438.90 V389.40 H450.20 V391.50 H454.30 V396.60 H462.40 V399.60 H465.50 V403.30 H476.70 V406.40 H482.90 V409.20 H488.00 V411.90 H513.50 V413.50 H533.20 V415.50 H537.30 V418.60 H542.40 V421.70 H547.50 V423.70 H550.50 V425.20 H647.20" fill="none" stroke="#474db0" stroke-width="1.75"/>
<path d="M397.90,380.80 H403.20 V383.30 H417.50 V385.30 H423.60 V388.40 H427.70 V392.50 H431.80 V395.50 H453.20 V399.60 H458.40 V402.70 H462.40 V405.80 H468.60 V409.90 H474.70 V417.40 H495.10 V420.10 H511.50 V423.10 H528.90 V424.80 H644.60" fill="none" stroke="#e6443a" stroke-width="1.75"/>
<path d="M419.00,380.80 v3.80 M431.00,382.40 v3.80 M442.00,387.50 v3.80 M446.34,387.50 v3.80 M476.00,401.40 v3.80 M491.00,410.00 v3.80 M494.63,410.00 v3.80 M499.30,410.00 v3.80 M502.39,410.00 v3.80 M508.11,410.00 v3.80 M515.00,411.60 v3.80 M520.04,411.60 v3.80 M524.75,411.60 v3.80 M527.88,411.60 v3.80 M531.83,411.60 v3.80 M536.31,413.60 v3.80 M539.15,416.70 v3.80 M541.99,416.70 v3.80 M547.75,421.80 v3.80 M553.34,423.30 v3.80 M557.13,423.30 v3.80 M560.31,423.30 v3.80 M565.70,423.30 v3.80 M568.09,423.30 v3.80 M570.97,423.30 v3.80 M576.96,423.30 v3.80 M579.31,423.30 v3.80 M585.06,423.30 v3.80 M589.34,423.30 v3.80 M592.79,423.30 v3.80 M596.22,423.30 v3.80 M601.03,423.30 v3.80 M605.78,423.30 v3.80 M611.55,423.30 v3.80 M616.76,423.30 v3.80 M622.55,423.30 v3.80 M625.92,423.30 v3.80 M630.53,423.30 v3.80 M634.03,423.30 v3.80 M639.78,423.30 v3.80 M643.48,423.30 v3.80" stroke="#474db0" stroke-width="1.2"/>
<path d="M411.00,381.40 v3.80 M445.00,393.60 v3.80 M467.00,403.90 v3.80 M493.00,415.50 v3.80 M501.00,418.20 v3.80 M503.84,418.20 v3.80 M508.68,418.20 v3.80 M522.00,421.20 v3.80 M524.90,421.20 v3.80 M530.33,422.90 v3.80 M532.36,422.90 v3.80 M537.56,422.90 v3.80 M540.34,422.90 v3.80 M545.07,422.90 v3.80 M550.25,422.90 v3.80 M554.57,422.90 v3.80 M557.88,422.90 v3.80 M562.66,422.90 v3.80 M565.60,422.90 v3.80 M569.65,422.90 v3.80 M574.79,422.90 v3.80 M579.73,422.90 v3.80 M584.20,422.90 v3.80 M589.83,422.90 v3.80 M592.12,422.90 v3.80 M594.69,422.90 v3.80 M596.82,422.90 v3.80 M599.69,422.90 v3.80 M602.59,422.90 v3.80 M604.76,422.90 v3.80 M608.55,422.90 v3.80 M612.24,422.90 v3.80 M615.03,422.90 v3.80 M617.55,422.90 v3.80 M622.09,422.90 v3.80 M627.77,422.90 v3.80 M630.39,422.90 v3.80 M632.56,422.90 v3.80 M637.03,422.90 v3.80 M640.61,422.90 v3.80" stroke="#e6443a" stroke-width="1.2"/>
<text x="4.03" y="656.00" font-size="21" fill="#0a0a0a" stroke="#0a0a0a" stroke-width="0.25" textLength="12.44" lengthAdjust="spacingAndGlyphs" xml:space="preserve"><tspan font-weight="bold" font-style="normal">e</tspan></text>
<text x="162.86" y="675.40" font-size="14.3" fill="#161616" stroke="#161616" stroke-width="0.25" textLength="26.87" lengthAdjust="spacingAndGlyphs" xml:space="preserve"><tspan font-weight="bold" font-style="normal">ER-</tspan></text>
<text transform="translate(17.90,875.40) rotate(-90)" x="-0.93" y="0" font-size="13.6" fill="#161616" stroke="#161616" stroke-width="0.25" textLength="187.32" lengthAdjust="spacingAndGlyphs"><tspan font-weight="bold" font-style="normal">Recurrence free survival (%)</tspan></text>
<path d="M50.30,687.80 V890.20 H297.90" fill="none" stroke="#222" stroke-width="1.9" stroke-linejoin="miter"/>
<path d="M50.30,890.20 h1.6 M50.30,849.92 h1.6 M50.30,809.64 h1.6 M50.30,769.36 h1.6 M50.30,729.08 h1.6 M50.30,688.80 h1.6 M50.30,890.20 v-1.6 M91.42,890.20 v-1.6 M132.53,890.20 v-1.6 M173.65,890.20 v-1.6 M214.77,890.20 v-1.6 M255.88,890.20 v-1.6 M297.00,890.20 v-1.6" stroke="#222" stroke-width="1.2"/>
<text x="39.19" y="893.40" font-size="13.8" fill="#161616" stroke="#161616" stroke-width="0.25" textLength="7.67" lengthAdjust="spacingAndGlyphs" xml:space="preserve"><tspan font-weight="bold" font-style="normal">0</tspan></text>
<text x="31.52" y="856.80" font-size="13.8" fill="#161616" stroke="#161616" stroke-width="0.25" textLength="15.35" lengthAdjust="spacingAndGlyphs" xml:space="preserve"><tspan font-weight="bold" font-style="normal">20</tspan></text>
<text x="31.52" y="815.80" font-size="13.8" fill="#161616" stroke="#161616" stroke-width="0.25" textLength="15.35" lengthAdjust="spacingAndGlyphs" xml:space="preserve"><tspan font-weight="bold" font-style="normal">40</tspan></text>
<text x="31.52" y="770.30" font-size="13.8" fill="#161616" stroke="#161616" stroke-width="0.25" textLength="15.35" lengthAdjust="spacingAndGlyphs" xml:space="preserve"><tspan font-weight="bold" font-style="normal">60</tspan></text>
<text x="31.52" y="732.00" font-size="13.8" fill="#161616" stroke="#161616" stroke-width="0.25" textLength="15.35" lengthAdjust="spacingAndGlyphs" xml:space="preserve"><tspan font-weight="bold" font-style="normal">80</tspan></text>
<text x="23.84" y="693.10" font-size="13.8" fill="#161616" stroke="#161616" stroke-width="0.25" textLength="23.02" lengthAdjust="spacingAndGlyphs" xml:space="preserve"><tspan font-weight="bold" font-style="normal">100</tspan></text>
<text x="52.13" y="908.20" font-size="13" fill="#161616" stroke="#161616" stroke-width="0.25" textLength="7.95" lengthAdjust="spacingAndGlyphs" xml:space="preserve"><tspan font-weight="bold" font-style="normal">0</tspan></text>
<text x="86.90" y="905.00" font-size="13" fill="#161616" stroke="#161616" stroke-width="0.25" textLength="7.95" lengthAdjust="spacingAndGlyphs" xml:space="preserve"><tspan font-weight="bold" font-style="normal">5</tspan></text>
<text x="124.59" y="905.40" font-size="13" fill="#161616" stroke="#161616" stroke-width="0.25" textLength="15.91" lengthAdjust="spacingAndGlyphs" xml:space="preserve"><tspan font-weight="bold" font-style="normal">10</tspan></text>
<text x="165.20" y="905.60" font-size="13" fill="#161616" stroke="#161616" stroke-width="0.25" textLength="15.91" lengthAdjust="spacingAndGlyphs" xml:space="preserve"><tspan font-weight="bold" font-style="normal">15</tspan></text>
<text x="206.99" y="905.60" font-size="13" fill="#161616" stroke="#161616" stroke-width="0.25" textLength="15.91" lengthAdjust="spacingAndGlyphs" xml:space="preserve"><tspan font-weight="bold" font-style="normal">20</tspan></text>
<text x="248.30" y="905.60" font-size="13" fill="#161616" stroke="#161616" stroke-width="0.25" textLength="15.91" lengthAdjust="spacingAndGlyphs" xml:space="preserve"><tspan font-weight="bold" font-style="normal">25</tspan></text>
<text x="289.28" y="905.60" font-size="13" fill="#161616" stroke="#161616" stroke-width="0.25" textLength="15.91" lengthAdjust="spacingAndGlyphs" xml:space="preserve"><tspan font-weight="bold" font-style="normal">30</tspan></text>
<text x="169.67" y="927.20" font-size="14.3" fill="#161616" stroke="#161616" stroke-width="0.25" textLength="37.09" lengthAdjust="spacingAndGlyphs" xml:space="preserve"><tspan font-weight="bold" font-style="normal">Years</tspan></text>
<text x="184.68" y="744.30" font-size="14.3" fill="#161616" stroke="#161616" stroke-width="0.25" textLength="55.09" lengthAdjust="spacingAndGlyphs" xml:space="preserve"><tspan font-weight="normal" font-style="italic">p</tspan><tspan font-weight="normal" font-style="normal"> = 0.56</tspan></text>
<path d="M61.30,809.00 H77.30" stroke="#3b2e9c" stroke-width="2"/>
<text x="80.76" y="813.20" font-size="15" fill="#1c1c1c" stroke="#1c1c1c" stroke-width="0.25" textLength="105.45" lengthAdjust="spacingAndGlyphs" xml:space="preserve"><tspan font-weight="normal" font-style="normal">MCM3- (n=47)</tspan></text>
<path d="M61.30,828.30 H77.30" stroke="#e0281c" stroke-width="2"/>
<text x="80.17" y="833.00" font-size="15" fill="#1c1c1c" stroke="#1c1c1c" stroke-width="0.25" textLength="117.83" lengthAdjust="spacingAndGlyphs" xml:space="preserve"><tspan font-weight="normal" font-style="normal">MCM3+ (n=100)</tspan></text>
<path d="M50.10,687.80 H52.20 V695.30 H58.30 V700.40 H64.40 V708.60 H70.50 V716.80 H86.90 V721.90 H99.20 V731.50 H114.50 V737.20 H117.60 V742.30 H123.70 V747.40 H151.30 V753.60 H261.20" fill="none" stroke="#474db0" stroke-width="1.75"/>
<path d="M50.10,687.80 H51.10 V690.20 H54.20 V695.30 H58.30 V702.50 H61.30 V706.60 H64.40 V711.70 H66.50 V718.80 H67.50 V726.00 H70.50 V728.00 H74.60 V732.10 H78.70 V734.20 H85.90 V738.20 H91.00 V740.30 H99.20 V745.40 H108.40 V748.90 H132.90 V751.10 H147.20 V755.20 H161.00 V759.00 H192.70 V763.50 H273.40" fill="none" stroke="#e6443a" stroke-width="1.75"/>
<path d="M85.00,714.90 v3.80 M92.00,720.00 v3.80 M99.00,720.00 v3.80 M130.00,745.50 v3.80 M143.00,745.50 v3.80 M146.79,745.50 v3.80 M159.00,751.70 v3.80 M165.27,751.70 v3.80 M171.36,751.70 v3.80 M176.95,751.70 v3.80 M180.62,751.70 v3.80 M186.69,751.70 v3.80 M191.88,751.70 v3.80 M199.00,751.70 v3.80 M202.16,751.70 v3.80 M206.65,751.70 v3.80 M210.43,751.70 v3.80 M217.92,751.70 v3.80 M221.32,751.70 v3.80 M228.04,751.70 v3.80 M232.96,751.70 v3.80 M239.97,751.70 v3.80 M244.47,751.70 v3.80 M249.37,751.70 v3.80 M254.78,751.70 v3.80 M260.23,751.70 v3.80" stroke="#474db0" stroke-width="1.2"/>
<path d="M104.00,743.50 v3.80 M116.00,747.00 v3.80 M130.00,747.00 v3.80 M165.00,757.10 v3.80 M169.66,757.10 v3.80 M174.28,757.10 v3.80 M180.79,757.10 v3.80 M185.83,757.10 v3.80 M190.17,757.10 v3.80 M195.00,761.60 v3.80 M200.35,761.60 v3.80 M206.78,761.60 v3.80 M209.37,761.60 v3.80 M211.92,761.60 v3.80 M215.82,761.60 v3.80 M218.56,761.60 v3.80 M222.31,761.60 v3.80 M228.02,761.60 v3.80 M231.52,761.60 v3.80 M235.42,761.60 v3.80 M239.42,761.60 v3.80 M242.41,761.60 v3.80 M247.57,761.60 v3.80 M251.63,761.60 v3.80 M256.55,761.60 v3.80 M261.75,761.60 v3.80 M266.02,761.60 v3.80 M272.18,761.60 v3.80" stroke="#e6443a" stroke-width="1.2"/>
<text x="334.32" y="662.30" font-size="20.5" fill="#0a0a0a" stroke="#0a0a0a" stroke-width="0.25" textLength="7.44" lengthAdjust="spacingAndGlyphs" xml:space="preserve"><tspan font-weight="bold" font-style="normal">f</tspan></text>
<text x="514.75" y="675.70" font-size="14.3" fill="#161616" stroke="#161616" stroke-width="0.25" textLength="27.08" lengthAdjust="spacingAndGlyphs" xml:space="preserve"><tspan font-weight="bold" font-style="normal">ER-</tspan></text>
<text transform="translate(369.50,902.80) rotate(-90)" x="-1.01" y="0" font-size="14.2" fill="#161616" stroke="#161616" stroke-width="0.25" textLength="249.66" lengthAdjust="spacingAndGlyphs"><tspan font-weight="bold" font-style="normal">Breast cancer specific survival (%)</tspan></text>
<path d="M403.10,683.60 V892.00 H664.00" fill="none" stroke="#222" stroke-width="1.9" stroke-linejoin="miter"/>
<path d="M403.10,892.00 h1.6 M403.10,850.52 h1.6 M403.10,809.04 h1.6 M403.10,767.56 h1.6 M403.10,726.08 h1.6 M403.10,684.60 h1.6 M403.10,892.00 v-1.6 M446.43,892.00 v-1.6 M489.77,892.00 v-1.6 M533.10,892.00 v-1.6 M576.43,892.00 v-1.6 M619.77,892.00 v-1.6 M663.10,892.00 v-1.6" stroke="#222" stroke-width="1.2"/>
<text x="390.59" y="893.40" font-size="14" fill="#161616" stroke="#161616" stroke-width="0.25" textLength="7.79" lengthAdjust="spacingAndGlyphs" xml:space="preserve"><tspan font-weight="bold" font-style="normal">0</tspan></text>
<text x="382.80" y="855.70" font-size="14" fill="#161616" stroke="#161616" stroke-width="0.25" textLength="15.57" lengthAdjust="spacingAndGlyphs" xml:space="preserve"><tspan font-weight="bold" font-style="normal">20</tspan></text>
<text x="382.80" y="812.30" font-size="14" fill="#161616" stroke="#161616" stroke-width="0.25" textLength="15.57" lengthAdjust="spacingAndGlyphs" xml:space="preserve"><tspan font-weight="bold" font-style="normal">40</tspan></text>
<text x="382.80" y="772.20" font-size="14" fill="#161616" stroke="#161616" stroke-width="0.25" textLength="15.57" lengthAdjust="spacingAndGlyphs" xml:space="preserve"><tspan font-weight="bold" font-style="normal">60</tspan></text>
<text x="382.80" y="731.20" font-size="14" fill="#161616" stroke="#161616" stroke-width="0.25" textLength="15.57" lengthAdjust="spacingAndGlyphs" xml:space="preserve"><tspan font-weight="bold" font-style="normal">80</tspan></text>
<text x="375.02" y="689.60" font-size="14" fill="#161616" stroke="#161616" stroke-width="0.25" textLength="23.36" lengthAdjust="spacingAndGlyphs" xml:space="preserve"><tspan font-weight="bold" font-style="normal">100</tspan></text>
<text x="404.53" y="905.40" font-size="13" fill="#161616" stroke="#161616" stroke-width="0.25" textLength="7.95" lengthAdjust="spacingAndGlyphs" xml:space="preserve"><tspan font-weight="bold" font-style="normal">0</tspan></text>
<text x="444.00" y="908.20" font-size="13" fill="#161616" stroke="#161616" stroke-width="0.25" textLength="7.95" lengthAdjust="spacingAndGlyphs" xml:space="preserve"><tspan font-weight="bold" font-style="normal">5</tspan></text>
<text x="483.99" y="908.20" font-size="13" fill="#161616" stroke="#161616" stroke-width="0.25" textLength="15.91" lengthAdjust="spacingAndGlyphs" xml:space="preserve"><tspan font-weight="bold" font-style="normal">10</tspan></text>
<text x="528.30" y="908.20" font-size="13" fill="#161616" stroke="#161616" stroke-width="0.25" textLength="15.91" lengthAdjust="spacingAndGlyphs" xml:space="preserve"><tspan font-weight="bold" font-style="normal">15</tspan></text>
<text x="571.79" y="908.20" font-size="13" fill="#161616" stroke="#161616" stroke-width="0.25" textLength="15.91" lengthAdjust="spacingAndGlyphs" xml:space="preserve"><tspan font-weight="bold" font-style="normal">20</tspan></text>
<text x="614.90" y="908.20" font-size="13" fill="#161616" stroke="#161616" stroke-width="0.25" textLength="15.91" lengthAdjust="spacingAndGlyphs" xml:space="preserve"><tspan font-weight="bold" font-style="normal">25</tspan></text>
<text x="658.28" y="908.20" font-size="13" fill="#161616" stroke="#161616" stroke-width="0.25" textLength="15.91" lengthAdjust="spacingAndGlyphs" xml:space="preserve"><tspan font-weight="bold" font-style="normal">30</tspan></text>
<text x="534.39" y="924.30" font-size="14.3" fill="#161616" stroke="#161616" stroke-width="0.25" textLength="32.80" lengthAdjust="spacingAndGlyphs" xml:space="preserve"><tspan font-weight="bold" font-style="normal">Years</tspan></text>
<text x="546.79" y="726.80" font-size="14.3" fill="#161616" stroke="#161616" stroke-width="0.25" textLength="57.60" lengthAdjust="spacingAndGlyphs" xml:space="preserve"><tspan font-weight="normal" font-style="italic">p</tspan><tspan font-weight="normal" font-style="normal"> = 0.96</tspan></text>
<path d="M419.40,813.60 H434.80" stroke="#3b2e9c" stroke-width="2"/>
<text x="438.47" y="818.50" font-size="15" fill="#1c1c1c" stroke="#1c1c1c" stroke-width="0.25" textLength="105.34" lengthAdjust="spacingAndGlyphs" xml:space="preserve"><tspan font-weight="normal" font-style="normal">MCM3- (n=47)</tspan></text>
<path d="M419.40,833.40 H434.80" stroke="#e0281c" stroke-width="2"/>
<text x="437.87" y="838.00" font-size="15" fill="#1c1c1c" stroke="#1c1c1c" stroke-width="0.25" textLength="118.14" lengthAdjust="spacingAndGlyphs" xml:space="preserve"><tspan font-weight="normal" font-style="normal">MCM3+ (n=100)</tspan></text>
<path d="M403.20,684.20 H405.20 V689.30 H415.40 V693.80 H425.70 V697.50 H432.80 V701.60 H435.90 V706.70 H451.20 V711.80 H461.40 V716.90 H471.60 V723.00 H472.70 V727.10 H476.70 V733.20 H510.50 V739.30 H626.20" fill="none" stroke="#474db0" stroke-width="1.75"/>
<path d="M403.20,684.20 H411.30 V686.20 H415.40 V689.30 H418.50 V691.40 H423.60 V693.40 H426.70 V697.50 H431.80 V701.60 H432.80 V704.60 H435.90 V708.70 H437.90 V712.80 H449.20 V716.90 H456.30 V721.00 H461.40 V724.00 H466.50 V726.10 H472.70 V727.70 H479.80 V730.20 H508.40 V731.60 H521.70 V737.20 H638.40" fill="none" stroke="#e6443a" stroke-width="1.75"/>
<path d="M439.00,704.80 v3.80 M442.17,704.80 v3.80 M445.68,704.80 v3.80 M458.00,709.90 v3.80 M489.00,731.30 v3.80 M505.00,731.30 v3.80 M511.00,737.40 v3.80 M516.45,737.40 v3.80 M520.68,737.40 v3.80 M524.46,737.40 v3.80 M527.08,737.40 v3.80 M530.67,737.40 v3.80 M535.69,737.40 v3.80 M538.47,737.40 v3.80 M544.15,737.40 v3.80 M548.23,737.40 v3.80 M551.99,737.40 v3.80 M554.83,737.40 v3.80 M560.77,737.40 v3.80 M563.23,737.40 v3.80 M565.31,737.40 v3.80 M569.42,737.40 v3.80 M571.69,737.40 v3.80 M574.17,737.40 v3.80 M579.58,737.40 v3.80 M583.68,737.40 v3.80 M587.01,737.40 v3.80 M589.32,737.40 v3.80 M594.80,737.40 v3.80 M599.60,737.40 v3.80 M603.91,737.40 v3.80 M608.62,737.40 v3.80 M611.96,737.40 v3.80 M615.60,737.40 v3.80 M620.38,737.40 v3.80 M624.26,737.40 v3.80" stroke="#474db0" stroke-width="1.2"/>
<path d="M487.00,728.30 v3.80 M489.48,728.30 v3.80 M492.92,728.30 v3.80 M495.84,728.30 v3.80 M501.71,728.30 v3.80 M524.00,735.30 v3.80 M526.30,735.30 v3.80 M532.14,735.30 v3.80 M535.10,735.30 v3.80 M538.92,735.30 v3.80 M544.70,735.30 v3.80 M549.44,735.30 v3.80 M552.90,735.30 v3.80 M558.82,735.30 v3.80 M561.84,735.30 v3.80 M566.29,735.30 v3.80 M569.87,735.30 v3.80 M575.67,735.30 v3.80 M581.22,735.30 v3.80 M584.38,735.30 v3.80 M589.66,735.30 v3.80 M592.24,735.30 v3.80 M597.69,735.30 v3.80 M601.83,735.30 v3.80 M607.13,735.30 v3.80 M609.68,735.30 v3.80 M615.07,735.30 v3.80 M618.69,735.30 v3.80 M624.12,735.30 v3.80 M628.63,735.30 v3.80 M634.17,735.30 v3.80" stroke="#e6443a" stroke-width="1.2"/>
<text x="4.52" y="948.50" font-size="20.5" fill="#0a0a0a" stroke="#0a0a0a" stroke-width="0.25" textLength="13.12" lengthAdjust="spacingAndGlyphs" xml:space="preserve"><tspan font-weight="bold" font-style="normal">g</tspan></text>
<text x="92.68" y="976.90" font-size="14.3" fill="#161616" stroke="#161616" stroke-width="0.25" textLength="149.57" lengthAdjust="spacingAndGlyphs" xml:space="preserve"><tspan font-weight="bold" font-style="normal">ER+ / with tamoxifen</tspan></text>
<text transform="translate(15.60,1186.70) rotate(-90)" x="-1.06" y="0" font-size="13.8" fill="#161616" stroke="#161616" stroke-width="0.25" textLength="214.35" lengthAdjust="spacingAndGlyphs"><tspan font-weight="bold" font-style="normal">Recurrence free survival (%)</tspan></text>
<path d="M46.80,991.90 V1183.90 H300.80" fill="none" stroke="#161616" stroke-width="1.8" stroke-linejoin="miter"/>
<path d="M46.80,1183.90 h-5 M46.80,1145.50 h-5 M46.80,1107.10 h-5 M46.80,1068.70 h-5 M46.80,1030.30 h-5 M46.80,991.90 h-5 M46.80,1183.90 v5 M89.13,1183.90 v5 M131.47,1183.90 v5 M173.80,1183.90 v5 M216.13,1183.90 v5 M258.47,1183.90 v5 M300.80,1183.90 v5" stroke="#161616" stroke-width="1.7"/>
<text x="34.15" y="1188.40" font-size="14" fill="#161616" stroke="#161616" stroke-width="0.25" textLength="7.40" lengthAdjust="spacingAndGlyphs" xml:space="preserve"><tspan font-weight="bold" font-style="normal">0</tspan></text>
<text x="26.75" y="1150.50" font-size="14" fill="#161616" stroke="#161616" stroke-width="0.25" textLength="14.79" lengthAdjust="spacingAndGlyphs" xml:space="preserve"><tspan font-weight="bold" font-style="normal">20</tspan></text>
<text x="26.75" y="1112.20" font-size="14" fill="#161616" stroke="#161616" stroke-width="0.25" textLength="14.79" lengthAdjust="spacingAndGlyphs" xml:space="preserve"><tspan font-weight="bold" font-style="normal">40</tspan></text>
<text x="26.75" y="1073.00" font-size="14" fill="#161616" stroke="#161616" stroke-width="0.25" textLength="14.79" lengthAdjust="spacingAndGlyphs" xml:space="preserve"><tspan font-weight="bold" font-style="normal">60</tspan></text>
<text x="26.75" y="1034.70" font-size="14" fill="#161616" stroke="#161616" stroke-width="0.25" textLength="14.79" lengthAdjust="spacingAndGlyphs" xml:space="preserve"><tspan font-weight="bold" font-style="normal">80</tspan></text>
<text x="19.36" y="995.80" font-size="14" fill="#161616" stroke="#161616" stroke-width="0.25" textLength="22.19" lengthAdjust="spacingAndGlyphs" xml:space="preserve"><tspan font-weight="bold" font-style="normal">100</tspan></text>
<text x="43.36" y="1203.00" font-size="13.5" fill="#161616" stroke="#161616" stroke-width="0.25" textLength="7.51" lengthAdjust="spacingAndGlyphs" xml:space="preserve"><tspan font-weight="bold" font-style="normal">0</tspan></text>
<text x="86.03" y="1203.00" font-size="13.5" fill="#161616" stroke="#161616" stroke-width="0.25" textLength="7.51" lengthAdjust="spacingAndGlyphs" xml:space="preserve"><tspan font-weight="bold" font-style="normal">5</tspan></text>
<text x="124.74" y="1203.00" font-size="13.5" fill="#161616" stroke="#161616" stroke-width="0.25" textLength="15.02" lengthAdjust="spacingAndGlyphs" xml:space="preserve"><tspan font-weight="bold" font-style="normal">10</tspan></text>
<text x="167.85" y="1203.00" font-size="13.5" fill="#161616" stroke="#161616" stroke-width="0.25" textLength="15.02" lengthAdjust="spacingAndGlyphs" xml:space="preserve"><tspan font-weight="bold" font-style="normal">15</tspan></text>
<text x="209.43" y="1203.00" font-size="13.5" fill="#161616" stroke="#161616" stroke-width="0.25" textLength="15.02" lengthAdjust="spacingAndGlyphs" xml:space="preserve"><tspan font-weight="bold" font-style="normal">20</tspan></text>
<text x="251.65" y="1203.00" font-size="13.5" fill="#161616" stroke="#161616" stroke-width="0.25" textLength="15.02" lengthAdjust="spacingAndGlyphs" xml:space="preserve"><tspan font-weight="bold" font-style="normal">25</tspan></text>
<text x="293.91" y="1203.00" font-size="13.5" fill="#161616" stroke="#161616" stroke-width="0.25" textLength="15.02" lengthAdjust="spacingAndGlyphs" xml:space="preserve"><tspan font-weight="bold" font-style="normal">30</tspan></text>
<text x="169.66" y="1218.00" font-size="14.5" fill="#161616" stroke="#161616" stroke-width="0.25" textLength="37.60" lengthAdjust="spacingAndGlyphs" xml:space="preserve"><tspan font-weight="bold" font-style="normal">Years</tspan></text>
<text x="182.20" y="1007.90" font-size="14.5" fill="#161616" stroke="#161616" stroke-width="0.25" textLength="58.71" lengthAdjust="spacingAndGlyphs" xml:space="preserve"><tspan font-weight="normal" font-style="italic" dy="-2.5">p</tspan><tspan font-weight="normal" font-style="normal" dy="2.5"> = 0.07</tspan></text>
<path d="M76.60,1098.60 H95.90" stroke="#e03a2a" stroke-width="1.6"/>
<path d="M85.35,1098.60 H87.15" stroke="#222" stroke-width="1.6"/>
<text x="104.88" y="1104.30" font-size="14.5" fill="#1c1c1c" stroke="#1c1c1c" stroke-width="0.25" textLength="85.84" lengthAdjust="spacingAndGlyphs" xml:space="preserve"><tspan font-weight="normal" font-style="normal">Ki67+ (n=56)</tspan></text>
<path d="M76.60,1119.50 H95.90" stroke="#5661b8" stroke-width="1.6"/>
<path d="M85.35,1119.50 H87.15" stroke="#222" stroke-width="1.6"/>
<text x="104.89" y="1124.40" font-size="14.5" fill="#1c1c1c" stroke="#1c1c1c" stroke-width="0.25" textLength="89.52" lengthAdjust="spacingAndGlyphs" xml:space="preserve"><tspan font-weight="normal" font-style="normal">Ki67- (n=220)</tspan></text>
<path d="M47.20,991.90 H61.50 V994.70 H73.70 V998.40 H78.80 V1002.10 H90.10 V1005.50 H93.10 V1009.20 H113.60 V1012.70 H116.60 V1020.50 H152.00 V1024.60 H170.80 V1028.80 H194.50 V1036.40 H276.70" fill="none" stroke="#e03a2a" stroke-width="1.6"/>
<path d="M47.20,991.90 H52.30 V992.70 H61.50 V993.90 H67.60 V994.70 H73.70 V995.70 H77.80 V997.40 H81.90 V999.00 H86.00 V1000.40 H103.40 V1001.50 H107.40 V1002.50 H116.60 V1004.10 H125.80 V1005.50 H134.00 V1008.00 H146.30 V1010.20 H154.40 V1011.70 H173.00 V1012.90 H190.40 V1014.90 H206.80 V1016.60 H284.00" fill="none" stroke="#5661b8" stroke-width="1.7"/>
<text x="331.11" y="949.20" font-size="20.5" fill="#0a0a0a" stroke="#0a0a0a" stroke-width="0.25" textLength="13.90" lengthAdjust="spacingAndGlyphs" xml:space="preserve"><tspan font-weight="bold" font-style="normal">h</tspan></text>
<text x="428.18" y="971.10" font-size="14.3" fill="#161616" stroke="#161616" stroke-width="0.25" textLength="149.57" lengthAdjust="spacingAndGlyphs" xml:space="preserve"><tspan font-weight="bold" font-style="normal">ER+ / with tamoxifen</tspan></text>
<text transform="translate(370.80,1223.00) rotate(-90)" x="-1.08" y="0" font-size="14" fill="#161616" stroke="#161616" stroke-width="0.25" textLength="266.99" lengthAdjust="spacingAndGlyphs"><tspan font-weight="bold" font-style="normal">Breast cancer specific survival (%)</tspan></text>
<path d="M401.70,996.70 V1190.00 H669.50" fill="none" stroke="#161616" stroke-width="1.8" stroke-linejoin="miter"/>
<path d="M401.70,1190.00 h-5 M401.70,1151.34 h-5 M401.70,1112.68 h-5 M401.70,1074.02 h-5 M401.70,1035.36 h-5 M401.70,996.70 h-5 M401.70,1190.00 v5 M446.33,1190.00 v5 M490.97,1190.00 v5 M535.60,1190.00 v5 M580.23,1190.00 v5 M624.87,1190.00 v5 M669.50,1190.00 v5" stroke="#161616" stroke-width="1.7"/>
<text x="387.18" y="1194.30" font-size="13.5" fill="#161616" stroke="#161616" stroke-width="0.25" textLength="7.36" lengthAdjust="spacingAndGlyphs" xml:space="preserve"><tspan font-weight="bold" font-style="normal">0</tspan></text>
<text x="379.83" y="1156.00" font-size="13.5" fill="#161616" stroke="#161616" stroke-width="0.25" textLength="14.72" lengthAdjust="spacingAndGlyphs" xml:space="preserve"><tspan font-weight="bold" font-style="normal">20</tspan></text>
<text x="379.83" y="1117.70" font-size="13.5" fill="#161616" stroke="#161616" stroke-width="0.25" textLength="14.72" lengthAdjust="spacingAndGlyphs" xml:space="preserve"><tspan font-weight="bold" font-style="normal">40</tspan></text>
<text x="379.83" y="1078.80" font-size="13.5" fill="#161616" stroke="#161616" stroke-width="0.25" textLength="14.72" lengthAdjust="spacingAndGlyphs" xml:space="preserve"><tspan font-weight="bold" font-style="normal">60</tspan></text>
<text x="379.83" y="1039.80" font-size="13.5" fill="#161616" stroke="#161616" stroke-width="0.25" textLength="14.72" lengthAdjust="spacingAndGlyphs" xml:space="preserve"><tspan font-weight="bold" font-style="normal">80</tspan></text>
<text x="372.47" y="1001.30" font-size="13.5" fill="#161616" stroke="#161616" stroke-width="0.25" textLength="22.07" lengthAdjust="spacingAndGlyphs" xml:space="preserve"><tspan font-weight="bold" font-style="normal">100</tspan></text>
<text x="397.96" y="1211.00" font-size="13.5" fill="#161616" stroke="#161616" stroke-width="0.25" textLength="7.51" lengthAdjust="spacingAndGlyphs" xml:space="preserve"><tspan font-weight="bold" font-style="normal">0</tspan></text>
<text x="442.93" y="1211.00" font-size="13.5" fill="#161616" stroke="#161616" stroke-width="0.25" textLength="7.51" lengthAdjust="spacingAndGlyphs" xml:space="preserve"><tspan font-weight="bold" font-style="normal">5</tspan></text>
<text x="483.54" y="1211.00" font-size="13.5" fill="#161616" stroke="#161616" stroke-width="0.25" textLength="15.02" lengthAdjust="spacingAndGlyphs" xml:space="preserve"><tspan font-weight="bold" font-style="normal">10</tspan></text>
<text x="527.95" y="1211.00" font-size="13.5" fill="#161616" stroke="#161616" stroke-width="0.25" textLength="15.02" lengthAdjust="spacingAndGlyphs" xml:space="preserve"><tspan font-weight="bold" font-style="normal">15</tspan></text>
<text x="573.13" y="1211.00" font-size="13.5" fill="#161616" stroke="#161616" stroke-width="0.25" textLength="15.02" lengthAdjust="spacingAndGlyphs" xml:space="preserve"><tspan font-weight="bold" font-style="normal">20</tspan></text>
<text x="617.35" y="1211.00" font-size="13.5" fill="#161616" stroke="#161616" stroke-width="0.25" textLength="15.02" lengthAdjust="spacingAndGlyphs" xml:space="preserve"><tspan font-weight="bold" font-style="normal">25</tspan></text>
<text x="662.01" y="1211.00" font-size="13.5" fill="#161616" stroke="#161616" stroke-width="0.25" textLength="15.02" lengthAdjust="spacingAndGlyphs" xml:space="preserve"><tspan font-weight="bold" font-style="normal">30</tspan></text>
<text x="532.57" y="1227.80" font-size="14.5" fill="#161616" stroke="#161616" stroke-width="0.25" textLength="36.27" lengthAdjust="spacingAndGlyphs" xml:space="preserve"><tspan font-weight="bold" font-style="normal">Years</tspan></text>
<text x="520.18" y="1004.10" font-size="14.5" fill="#161616" stroke="#161616" stroke-width="0.25" textLength="46.89" lengthAdjust="spacingAndGlyphs" xml:space="preserve"><tspan font-weight="normal" font-style="italic">p</tspan><tspan font-weight="normal" font-style="normal"> = 0.3</tspan></text>
<path d="M435.90,1089.20 H455.60" stroke="#e03a2a" stroke-width="1.6"/>
<path d="M444.85,1089.20 H446.65" stroke="#222" stroke-width="1.6"/>
<text x="465.42" y="1095.00" font-size="14.5" fill="#1c1c1c" stroke="#1c1c1c" stroke-width="0.25" textLength="83.48" lengthAdjust="spacingAndGlyphs" xml:space="preserve"><tspan font-weight="normal" font-style="normal">Ki67+ (n=56)</tspan></text>
<path d="M435.90,1111.10 H455.60" stroke="#5661b8" stroke-width="1.6"/>
<path d="M444.85,1111.10 H446.65" stroke="#222" stroke-width="1.6"/>
<text x="465.43" y="1116.80" font-size="14.5" fill="#1c1c1c" stroke="#1c1c1c" stroke-width="0.25" textLength="86.75" lengthAdjust="spacingAndGlyphs" xml:space="preserve"><tspan font-weight="normal" font-style="normal">Ki67- (n=220)</tspan></text>
<path d="M402.20,996.90 H416.50 V999.70 H436.90 V1003.80 H474.70 V1007.50 H478.80 V1010.50 H481.90 V1015.70 H496.20 V1019.70 H523.10 V1024.20 H643.60" fill="none" stroke="#e03a2a" stroke-width="1.6"/>
<path d="M402.20,996.90 H429.70 V997.70 H433.80 V998.70 H437.90 V999.70 H441.00 V1000.90 H447.10 V1002.00 H452.20 V1003.00 H465.50 V1004.00 H472.70 V1005.00 H482.90 V1006.00 H489.00 V1009.10 H493.10 V1010.50 H511.50 V1012.60 H570.10 V1015.20 H593.60 V1019.70 H651.20" fill="none" stroke="#5661b8" stroke-width="1.7"/>
<text x="4.17" y="1256.60" font-size="20.5" fill="#0a0a0a" stroke="#0a0a0a" stroke-width="0.25" textLength="6.88" lengthAdjust="spacingAndGlyphs" xml:space="preserve"><tspan font-weight="bold" font-style="normal">i</tspan></text>
<text x="64.38" y="1281.10" font-size="14.3" fill="#161616" stroke="#161616" stroke-width="0.25" textLength="149.67" lengthAdjust="spacingAndGlyphs" xml:space="preserve"><tspan font-weight="bold" font-style="normal">ER+ / with tamoxifen</tspan></text>
<text transform="translate(11.80,1491.20) rotate(-90)" x="-1.04" y="0" font-size="13.6" fill="#161616" stroke="#161616" stroke-width="0.25" textLength="210.82" lengthAdjust="spacingAndGlyphs"><tspan font-weight="bold" font-style="normal">Recurrence free survival (%)</tspan></text>
<path d="M42.60,1308.60 V1485.50 H298.70" fill="none" stroke="#161616" stroke-width="1.8" stroke-linejoin="miter"/>
<path d="M42.60,1485.50 h-5 M42.60,1450.12 h-5 M42.60,1414.74 h-5 M42.60,1379.36 h-5 M42.60,1343.98 h-5 M42.60,1308.60 h-5 M42.60,1485.50 v5 M85.28,1485.50 v5 M127.97,1485.50 v5 M170.65,1485.50 v5 M213.33,1485.50 v5 M256.02,1485.50 v5 M298.70,1485.50 v5" stroke="#161616" stroke-width="1.7"/>
<text x="29.37" y="1489.00" font-size="14" fill="#161616" stroke="#161616" stroke-width="0.25" textLength="7.16" lengthAdjust="spacingAndGlyphs" xml:space="preserve"><tspan font-weight="bold" font-style="normal">0</tspan></text>
<text x="22.20" y="1454.60" font-size="14" fill="#161616" stroke="#161616" stroke-width="0.25" textLength="14.33" lengthAdjust="spacingAndGlyphs" xml:space="preserve"><tspan font-weight="bold" font-style="normal">20</tspan></text>
<text x="22.20" y="1418.90" font-size="14" fill="#161616" stroke="#161616" stroke-width="0.25" textLength="14.33" lengthAdjust="spacingAndGlyphs" xml:space="preserve"><tspan font-weight="bold" font-style="normal">40</tspan></text>
<text x="22.20" y="1383.50" font-size="14" fill="#161616" stroke="#161616" stroke-width="0.25" textLength="14.33" lengthAdjust="spacingAndGlyphs" xml:space="preserve"><tspan font-weight="bold" font-style="normal">60</tspan></text>
<text x="22.20" y="1348.60" font-size="14" fill="#161616" stroke="#161616" stroke-width="0.25" textLength="14.33" lengthAdjust="spacingAndGlyphs" xml:space="preserve"><tspan font-weight="bold" font-style="normal">80</tspan></text>
<text x="15.04" y="1313.20" font-size="14" fill="#161616" stroke="#161616" stroke-width="0.25" textLength="21.49" lengthAdjust="spacingAndGlyphs" xml:space="preserve"><tspan font-weight="bold" font-style="normal">100</tspan></text>
<text x="39.16" y="1504.00" font-size="13.5" fill="#161616" stroke="#161616" stroke-width="0.25" textLength="7.51" lengthAdjust="spacingAndGlyphs" xml:space="preserve"><tspan font-weight="bold" font-style="normal">0</tspan></text>
<text x="82.13" y="1504.00" font-size="13.5" fill="#161616" stroke="#161616" stroke-width="0.25" textLength="7.51" lengthAdjust="spacingAndGlyphs" xml:space="preserve"><tspan font-weight="bold" font-style="normal">5</tspan></text>
<text x="121.14" y="1504.00" font-size="13.5" fill="#161616" stroke="#161616" stroke-width="0.25" textLength="15.02" lengthAdjust="spacingAndGlyphs" xml:space="preserve"><tspan font-weight="bold" font-style="normal">10</tspan></text>
<text x="163.35" y="1504.00" font-size="13.5" fill="#161616" stroke="#161616" stroke-width="0.25" textLength="15.02" lengthAdjust="spacingAndGlyphs" xml:space="preserve"><tspan font-weight="bold" font-style="normal">15</tspan></text>
<text x="206.13" y="1504.00" font-size="13.5" fill="#161616" stroke="#161616" stroke-width="0.25" textLength="15.02" lengthAdjust="spacingAndGlyphs" xml:space="preserve"><tspan font-weight="bold" font-style="normal">20</tspan></text>
<text x="248.75" y="1504.00" font-size="13.5" fill="#161616" stroke="#161616" stroke-width="0.25" textLength="15.02" lengthAdjust="spacingAndGlyphs" xml:space="preserve"><tspan font-weight="bold" font-style="normal">25</tspan></text>
<text x="291.61" y="1504.00" font-size="13.5" fill="#161616" stroke="#161616" stroke-width="0.25" textLength="15.02" lengthAdjust="spacingAndGlyphs" xml:space="preserve"><tspan font-weight="bold" font-style="normal">30</tspan></text>
<text x="165.25" y="1521.50" font-size="14.5" fill="#161616" stroke="#161616" stroke-width="0.25" textLength="39.34" lengthAdjust="spacingAndGlyphs" xml:space="preserve"><tspan font-weight="bold" font-style="normal">Years</tspan></text>
<text x="140.46" y="1309.60" font-size="14.5" fill="#161616" stroke="#161616" stroke-width="0.25" textLength="60.88" lengthAdjust="spacingAndGlyphs" xml:space="preserve"><tspan font-weight="normal" font-style="italic">p</tspan><tspan font-weight="normal" font-style="normal"> = 0.006</tspan></text>
<path d="M65.70,1401.40 H85.00" stroke="#e03a2a" stroke-width="1.6"/>
<path d="M74.45,1401.40 H76.25" stroke="#222" stroke-width="1.6"/>
<text x="93.59" y="1407.20" font-size="14.5" fill="#1c1c1c" stroke="#1c1c1c" stroke-width="0.25" textLength="141.83" lengthAdjust="spacingAndGlyphs" xml:space="preserve"><tspan font-weight="normal" font-style="normal">MCM3+/Ki67+ (n=34)</tspan></text>
<path d="M65.70,1422.20 H85.00" stroke="#5661b8" stroke-width="1.6"/>
<path d="M74.45,1422.20 H76.25" stroke="#222" stroke-width="1.6"/>
<text x="93.58" y="1428.00" font-size="14.5" fill="#1c1c1c" stroke="#1c1c1c" stroke-width="0.25" textLength="134.74" lengthAdjust="spacingAndGlyphs" xml:space="preserve"><tspan font-weight="normal" font-style="normal">MCM3-/Ki67- (n=94)</tspan></text>
<path d="M42.80,1309.30 H56.50 V1314.40 H69.30 V1319.50 H89.80 V1324.60 H110.60 V1329.70 H112.30 V1334.90 H148.40 V1341.70 H167.60 V1348.70 H191.10 V1358.10 H257.70" fill="none" stroke="#e03a2a" stroke-width="1.6"/>
<path d="M42.80,1309.30 H83.60 V1310.30 H100.00 V1313.00 H130.60 V1315.00 H143.30 V1320.20 H202.90 V1325.20 H281.60" fill="none" stroke="#5661b8" stroke-width="1.7"/>
<text x="335.13" y="1256.20" font-size="20.5" fill="#0a0a0a" stroke="#0a0a0a" stroke-width="0.25" textLength="7.72" lengthAdjust="spacingAndGlyphs" xml:space="preserve"><tspan font-weight="bold" font-style="normal">j</tspan></text>
<text x="421.68" y="1285.80" font-size="14.3" fill="#161616" stroke="#161616" stroke-width="0.25" textLength="149.06" lengthAdjust="spacingAndGlyphs" xml:space="preserve"><tspan font-weight="bold" font-style="normal">ER+ / with tamoxifen</tspan></text>
<text transform="translate(367.40,1511.60) rotate(-90)" x="-0.98" y="0" font-size="14" fill="#161616" stroke="#161616" stroke-width="0.25" textLength="241.71" lengthAdjust="spacingAndGlyphs"><tspan font-weight="bold" font-style="normal">Breast cancer specific survival (%)</tspan></text>
<path d="M400.10,1308.20 V1487.30 H676.40" fill="none" stroke="#161616" stroke-width="1.8" stroke-linejoin="miter"/>
<path d="M400.10,1487.30 h-5 M400.10,1451.48 h-5 M400.10,1415.66 h-5 M400.10,1379.84 h-5 M400.10,1344.02 h-5 M400.10,1308.20 h-5 M400.10,1487.30 v5 M446.15,1487.30 v5 M492.20,1487.30 v5 M538.25,1487.30 v5 M584.30,1487.30 v5 M630.35,1487.30 v5 M676.40,1487.30 v5" stroke="#161616" stroke-width="1.7"/>
<text x="386.50" y="1491.90" font-size="13.8" fill="#161616" stroke="#161616" stroke-width="0.25" textLength="7.44" lengthAdjust="spacingAndGlyphs" xml:space="preserve"><tspan font-weight="bold" font-style="normal">0</tspan></text>
<text x="379.06" y="1456.60" font-size="13.8" fill="#161616" stroke="#161616" stroke-width="0.25" textLength="14.89" lengthAdjust="spacingAndGlyphs" xml:space="preserve"><tspan font-weight="bold" font-style="normal">20</tspan></text>
<text x="379.06" y="1420.50" font-size="13.8" fill="#161616" stroke="#161616" stroke-width="0.25" textLength="14.89" lengthAdjust="spacingAndGlyphs" xml:space="preserve"><tspan font-weight="bold" font-style="normal">40</tspan></text>
<text x="379.06" y="1384.60" font-size="13.8" fill="#161616" stroke="#161616" stroke-width="0.25" textLength="14.89" lengthAdjust="spacingAndGlyphs" xml:space="preserve"><tspan font-weight="bold" font-style="normal">60</tspan></text>
<text x="379.06" y="1348.50" font-size="13.8" fill="#161616" stroke="#161616" stroke-width="0.25" textLength="14.89" lengthAdjust="spacingAndGlyphs" xml:space="preserve"><tspan font-weight="bold" font-style="normal">80</tspan></text>
<text x="371.62" y="1312.60" font-size="13.8" fill="#161616" stroke="#161616" stroke-width="0.25" textLength="22.33" lengthAdjust="spacingAndGlyphs" xml:space="preserve"><tspan font-weight="bold" font-style="normal">100</tspan></text>
<text x="396.53" y="1507.30" font-size="14.3" fill="#161616" stroke="#161616" stroke-width="0.25" textLength="7.95" lengthAdjust="spacingAndGlyphs" xml:space="preserve"><tspan font-weight="bold" font-style="normal">0</tspan></text>
<text x="442.70" y="1507.30" font-size="14.3" fill="#161616" stroke="#161616" stroke-width="0.25" textLength="7.95" lengthAdjust="spacingAndGlyphs" xml:space="preserve"><tspan font-weight="bold" font-style="normal">5</tspan></text>
<text x="484.19" y="1507.30" font-size="14.3" fill="#161616" stroke="#161616" stroke-width="0.25" textLength="15.91" lengthAdjust="spacingAndGlyphs" xml:space="preserve"><tspan font-weight="bold" font-style="normal">10</tspan></text>
<text x="530.60" y="1507.30" font-size="14.3" fill="#161616" stroke="#161616" stroke-width="0.25" textLength="15.91" lengthAdjust="spacingAndGlyphs" xml:space="preserve"><tspan font-weight="bold" font-style="normal">15</tspan></text>
<text x="576.29" y="1507.30" font-size="14.3" fill="#161616" stroke="#161616" stroke-width="0.25" textLength="15.91" lengthAdjust="spacingAndGlyphs" xml:space="preserve"><tspan font-weight="bold" font-style="normal">20</tspan></text>
<text x="622.30" y="1507.30" font-size="14.3" fill="#161616" stroke="#161616" stroke-width="0.25" textLength="15.91" lengthAdjust="spacingAndGlyphs" xml:space="preserve"><tspan font-weight="bold" font-style="normal">25</tspan></text>
<text x="668.78" y="1507.30" font-size="14.3" fill="#161616" stroke="#161616" stroke-width="0.25" textLength="15.91" lengthAdjust="spacingAndGlyphs" xml:space="preserve"><tspan font-weight="bold" font-style="normal">30</tspan></text>
<text x="536.04" y="1525.50" font-size="15" fill="#161616" stroke="#161616" stroke-width="0.25" textLength="40.97" lengthAdjust="spacingAndGlyphs" xml:space="preserve"><tspan font-weight="bold" font-style="normal">Years</tspan></text>
<text x="560.98" y="1311.60" font-size="14.5" fill="#161616" stroke="#161616" stroke-width="0.25" textLength="56.15" lengthAdjust="spacingAndGlyphs" xml:space="preserve"><tspan font-weight="normal" font-style="italic">p</tspan><tspan font-weight="normal" font-style="normal"> = 0.09</tspan></text>
<path d="M424.90,1403.00 H445.70" stroke="#e03a2a" stroke-width="1.6"/>
<path d="M434.40,1403.00 H436.20" stroke="#222" stroke-width="1.6"/>
<text x="455.52" y="1408.60" font-size="14.5" fill="#1c1c1c" stroke="#1c1c1c" stroke-width="0.25" textLength="149.85" lengthAdjust="spacingAndGlyphs" xml:space="preserve"><tspan font-weight="normal" font-style="normal">MCM3+/Ki67+ (n=34)</tspan></text>
<path d="M424.90,1423.80 H445.70" stroke="#5661b8" stroke-width="1.6"/>
<path d="M434.40,1423.80 H436.20" stroke="#222" stroke-width="1.6"/>
<text x="455.52" y="1429.20" font-size="14.5" fill="#1c1c1c" stroke="#1c1c1c" stroke-width="0.25" textLength="142.26" lengthAdjust="spacingAndGlyphs" xml:space="preserve"><tspan font-weight="normal" font-style="normal">MCM3-/Ki67- (n=94)</tspan></text>
<path d="M400.10,1308.30 H415.40 V1314.00 H475.10 V1319.10 H479.80 V1324.60 H497.60 V1331.20 H525.10 V1338.00 H631.40" fill="none" stroke="#e03a2a" stroke-width="1.6"/>
<path d="M400.10,1308.30 H429.70 V1310.40 H545.50 V1313.90 H551.70 V1318.00 H558.40 V1322.30 H610.90 V1336.60 H649.20" fill="none" stroke="#5661b8" stroke-width="1.7"/>
</svg></body></html>
